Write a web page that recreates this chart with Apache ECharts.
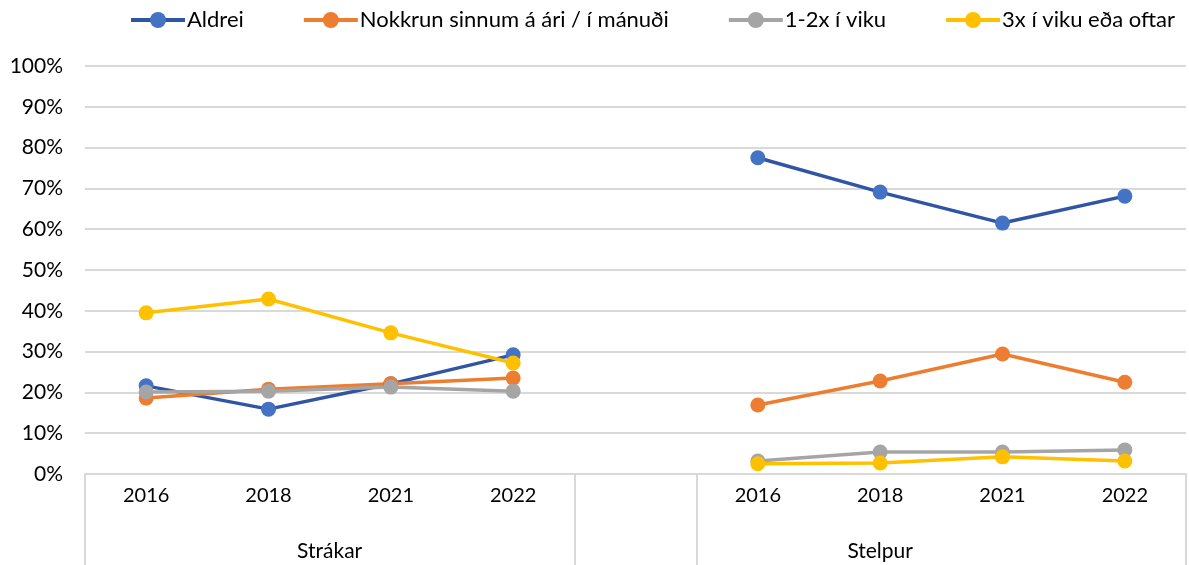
<!DOCTYPE html>
<html lang="is">
<head>
<meta charset="UTF-8">
<title>Chart</title>
<script src="https://cdn.jsdelivr.net/npm/echarts@6/dist/echarts.min.js"></script>
<style>
  html, body { margin: 0; padding: 0; background: #fff; }
  #main { width: 1189px; height: 565px; }
</style>
</head>
<body>
<div id="main"></div>
<script>
// categories: two groups of years with an empty slot between them
var years = ['2016', '2018', '2021', '2022', '', '2016', '2018', '2021', '2022'];
var groups = ['Strákar', 'Stelpur'];
var yTicks = [0, 10, 20, 30, 40, 50, 60, 70, 80, 90, 100];

// values in % (null = gap column)
var aldrei   = [21.6, 15.9, 22.1, 29.2, null, 77.5, 69.1, 61.5, 68.1];
var nokkrun  = [18.6, 20.8, 22.1, 23.5, null, 16.9, 22.8, 29.4, 22.5];
var vika12   = [20.1, 20.3, 21.3, 20.3, null, 3.2, 5.4, 5.4, 5.9];
var vika3    = [39.5, 42.9, 34.6, 27.2, null, 2.5, 2.7, 4.2, 3.2];

var names = ['Aldrei', 'Nokkrun sinnum á ári / í mánuði', '1-2x í viku', '3x í viku eða oftar'];
var font = 'Lato, "Open Sans", sans-serif';

function mk(name, data, marker, line) {
    return {
        name: name,
        type: 'line',
        xAxisIndex: 0,
        data: data,
        connectNulls: false,
        symbol: 'circle',
        symbolSize: 15,
        itemStyle: { color: marker },
        lineStyle: { color: line, width: 3.5 },
        emphasis: { disabled: true },
        animation: false
    };
}

var chart = echarts.init(document.getElementById('main'));
chart.setOption({
    animation: false,
    textStyle: { fontFamily: font },
    legend: {
        top: 4,
        left: 124,
        itemWidth: 54,
        itemHeight: 20,
        itemGap: 58,
        lineStyle: { width: 4 },
        textStyle: { fontSize: 22, color: '#000', fontFamily: font, padding: [0, 0, 0, -3] },
        data: names
    },
    grid: { left: 85, right: 0, top: 66, bottom: 91, containLabel: false },
    xAxis: [{
        type: 'category',
        data: years,
        position: 'bottom',
        axisLine: { lineStyle: { color: '#D9D9D9', width: 2 } },
        axisTick: {
            show: true,
            length: 92,
            lineStyle: { color: '#D9D9D9', width: 2 },
            interval: function (i) { return i === 0 || i === 4 || i === 5; }
        },
        axisLabel: { fontSize: 20, color: '#000', margin: 12, fontFamily: font, interval: 0 }
    }, {
        type: 'value',
        position: 'bottom',
        min: 0,
        max: 9,
        interval: 0.5,
        axisLine: { show: false },
        axisTick: { show: false },
        splitLine: { show: false },
        axisLabel: {
            fontSize: 21, color: '#000', margin: 67, fontFamily: font,
            showMinLabel: true, showMaxLabel: true,
            formatter: function (v) {
                if (v === 2) return groups[0];
                if (v === 6.5) return groups[1];
                return '';
            }
        }
    }],
    yAxis: {
        type: 'value',
        min: yTicks[0],
        max: yTicks[yTicks.length - 1],
        interval: 10,
        axisLine: { show: false },
        axisTick: { show: false },
        splitLine: { lineStyle: { color: '#D9D9D9', width: 2 } },
        axisLabel: {
            fontSize: 21, color: '#000', margin: 22, fontFamily: font,
            formatter: '{value}%'
        }
    },
    series: [
        mk(names[0], aldrei, '#4472C4', '#2F55A4'),
        mk(names[1], nokkrun, '#ED7D31', '#ED7D31'),
        mk(names[2], vika12, '#A5A5A5', '#A5A5A5'),
        mk(names[3], vika3, '#FFC000', '#FFC000')
    ]
});
</script>
</body>
</html>
